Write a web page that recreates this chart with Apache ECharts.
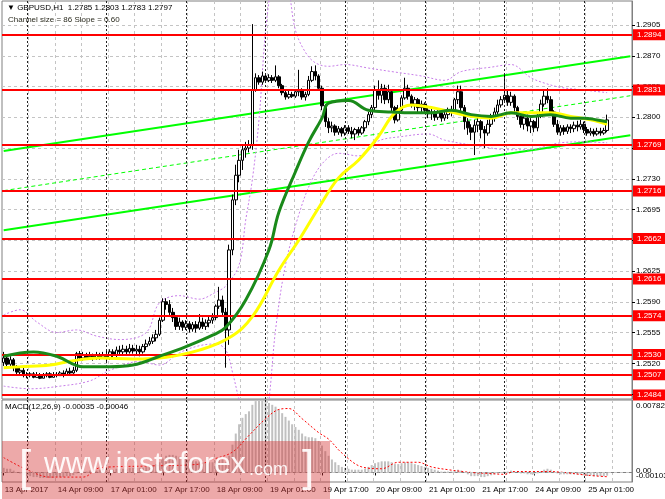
<!DOCTYPE html>
<html><head><meta charset="utf-8">
<script src="https://cdn.jsdelivr.net/npm/echarts@6/dist/echarts.min.js"></script>
<style>html,body{margin:0;padding:0;background:#fff}#c{width:665px;height:499px}</style>
</head><body><div id="c"></div>
<script>
// ---------- data (hourly bars, 13 Apr 2017 17:00 .. 25 Apr 2017 07:00) ----------
const barOpen = [1.2521,1.2526,1.2519,1.2524,1.2515,1.2510,1.2512,1.2507,1.2506,1.2508,
 1.2504,1.2507,1.2503,1.2506,1.2508,1.2504,1.2507,1.2506,1.2509,1.2507,
 1.2511,1.2509,1.2512,1.2531,1.2526,1.2529,1.2526,1.2528,1.2526,1.2529,
 1.2527,1.2529,1.2526,1.2533,1.2529,1.2535,1.2533,1.2536,1.2533,1.2537,
 1.2534,1.2536,1.2533,1.2539,1.2542,1.2545,1.2549,1.2553,1.2569,1.2590,
 1.2587,1.2578,1.2572,1.2562,1.2567,1.2561,1.2565,1.2559,1.2564,1.2560,
 1.2567,1.2562,1.2566,1.2569,1.2572,1.2585,1.2592,1.2578,1.2558,1.2649,
 1.2706,1.2734,1.2751,1.2763,1.2765,1.2768,1.2831,1.2845,1.2840,1.2847,
 1.2842,1.2845,1.2842,1.2846,1.2836,1.2828,1.2823,1.2826,1.2824,1.2829,
 1.2831,1.2823,1.2826,1.2842,1.2852,1.2847,1.2833,1.2813,1.2795,1.2788,
 1.2790,1.2783,1.2787,1.2782,1.2788,1.2784,1.2781,1.2786,1.2782,1.2788,
 1.2795,1.2803,1.2811,1.2831,1.2825,1.2833,1.2820,1.2829,1.2811,1.2797,
 1.2808,1.2822,1.2833,1.2824,1.2815,1.2820,1.2811,1.2815,1.2808,1.2804,
 1.2806,1.2800,1.2805,1.2799,1.2803,1.2808,1.2806,1.2820,1.2829,1.2811,
 1.2795,1.2788,1.2783,1.2791,1.2795,1.2786,1.2782,1.2792,1.2799,1.2806,
 1.2814,1.2820,1.2825,1.2817,1.2824,1.2811,1.2801,1.2792,1.2799,1.2790,
 1.2795,1.2788,1.2801,1.2815,1.2824,1.2820,1.2806,1.2792,1.2783,1.2788,
 1.2784,1.2789,1.2787,1.2791,1.2789,1.2792,1.2786,1.2782,1.2784,1.2781,
 1.2784,1.2782,1.2785];
const barClose = [1.2526,1.2519,1.2524,1.2515,1.2510,1.2512,1.2507,1.2506,1.2508,1.2504,
 1.2507,1.2503,1.2506,1.2508,1.2504,1.2507,1.2506,1.2509,1.2507,1.2511,
 1.2509,1.2512,1.2531,1.2526,1.2529,1.2526,1.2528,1.2526,1.2529,1.2527,
 1.2529,1.2526,1.2533,1.2529,1.2535,1.2533,1.2536,1.2533,1.2537,1.2534,
 1.2536,1.2533,1.2539,1.2542,1.2545,1.2549,1.2553,1.2569,1.2590,1.2587,
 1.2578,1.2572,1.2562,1.2567,1.2561,1.2565,1.2559,1.2564,1.2560,1.2567,
 1.2562,1.2566,1.2569,1.2572,1.2585,1.2592,1.2578,1.2558,1.2649,1.2706,
 1.2734,1.2751,1.2763,1.2765,1.2768,1.2831,1.2845,1.2840,1.2847,1.2842,
 1.2845,1.2842,1.2846,1.2836,1.2828,1.2823,1.2826,1.2824,1.2829,1.2831,
 1.2823,1.2826,1.2842,1.2852,1.2847,1.2833,1.2813,1.2795,1.2788,1.2790,
 1.2783,1.2787,1.2782,1.2788,1.2784,1.2781,1.2786,1.2782,1.2788,1.2795,
 1.2803,1.2811,1.2831,1.2825,1.2833,1.2820,1.2829,1.2811,1.2797,1.2808,
 1.2822,1.2833,1.2824,1.2815,1.2820,1.2811,1.2815,1.2808,1.2804,1.2806,
 1.2800,1.2805,1.2799,1.2803,1.2808,1.2806,1.2820,1.2829,1.2811,1.2795,
 1.2788,1.2783,1.2791,1.2795,1.2786,1.2782,1.2792,1.2799,1.2806,1.2814,
 1.2820,1.2825,1.2817,1.2824,1.2811,1.2801,1.2792,1.2799,1.2790,1.2795,
 1.2788,1.2801,1.2815,1.2824,1.2820,1.2806,1.2792,1.2783,1.2788,1.2784,
 1.2789,1.2787,1.2791,1.2789,1.2792,1.2786,1.2782,1.2784,1.2781,1.2784,
 1.2782,1.2785,1.2797];
const barHigh = [1.2533,1.2529,1.2528,1.2526,1.2518,1.2516,1.2515,1.2510,1.2510,1.2510,
 1.2510,1.2509,1.2509,1.2510,1.2510,1.2510,1.2510,1.2511,1.2512,1.2514,
 1.2515,1.2516,1.2533,1.2534,1.2533,1.2532,1.2533,1.2531,1.2533,1.2532,
 1.2533,1.2535,1.2536,1.2536,1.2539,1.2540,1.2541,1.2540,1.2542,1.2541,
 1.2541,1.2540,1.2542,1.2547,1.2550,1.2553,1.2558,1.2572,1.2594,1.2594,
 1.2592,1.2583,1.2575,1.2572,1.2569,1.2569,1.2568,1.2567,1.2568,1.2576,
 1.2572,1.2570,1.2574,1.2577,1.2587,1.2607,1.2597,1.2583,1.2655,1.2712,
 1.2746,1.2763,1.2768,1.2772,1.2774,1.2906,1.2850,1.2848,1.2852,1.2849,
 1.2849,1.2848,1.2859,1.2848,1.2838,1.2831,1.2830,1.2829,1.2831,1.2854,
 1.2833,1.2829,1.2847,1.2858,1.2859,1.2849,1.2836,1.2815,1.2799,1.2795,
 1.2792,1.2790,1.2789,1.2791,1.2791,1.2789,1.2788,1.2789,1.2790,1.2797,
 1.2806,1.2814,1.2836,1.2842,1.2838,1.2837,1.2837,1.2831,1.2813,1.2814,
 1.2825,1.2845,1.2837,1.2826,1.2823,1.2822,1.2819,1.2817,1.2813,1.2811,
 1.2808,1.2808,1.2806,1.2806,1.2811,1.2813,1.2822,1.2836,1.2836,1.2814,
 1.2799,1.2792,1.2797,1.2799,1.2797,1.2790,1.2797,1.2804,1.2811,1.2820,
 1.2824,1.2848,1.2831,1.2829,1.2826,1.2813,1.2806,1.2804,1.2803,1.2799,
 1.2797,1.2806,1.2820,1.2831,1.2833,1.2824,1.2808,1.2797,1.2791,1.2791,
 1.2792,1.2792,1.2795,1.2796,1.2797,1.2795,1.2789,1.2788,1.2787,1.2788,
 1.2788,1.2788,1.2803];
const barLow = [1.2517,1.2516,1.2515,1.2511,1.2507,1.2506,1.2504,1.2503,1.2504,1.2503,
 1.2504,1.2502,1.2503,1.2504,1.2503,1.2504,1.2504,1.2506,1.2504,1.2507,
 1.2507,1.2508,1.2510,1.2524,1.2523,1.2524,1.2524,1.2523,1.2524,1.2524,
 1.2525,1.2521,1.2524,1.2526,1.2527,1.2529,1.2529,1.2529,1.2531,1.2531,
 1.2529,1.2528,1.2531,1.2535,1.2540,1.2542,1.2545,1.2551,1.2567,1.2581,
 1.2575,1.2567,1.2558,1.2558,1.2557,1.2558,1.2555,1.2556,1.2555,1.2558,
 1.2559,1.2558,1.2561,1.2565,1.2569,1.2582,1.2574,1.2515,1.2541,1.2643,
 1.2700,1.2726,1.2740,1.2754,1.2760,1.2763,1.2829,1.2837,1.2837,1.2839,
 1.2840,1.2839,1.2840,1.2833,1.2825,1.2820,1.2821,1.2822,1.2822,1.2824,
 1.2820,1.2819,1.2824,1.2840,1.2842,1.2831,1.2808,1.2789,1.2782,1.2783,
 1.2779,1.2780,1.2778,1.2779,1.2781,1.2776,1.2774,1.2779,1.2780,1.2784,
 1.2791,1.2799,1.2808,1.2820,1.2816,1.2815,1.2816,1.2806,1.2793,1.2795,
 1.2806,1.2820,1.2820,1.2811,1.2808,1.2806,1.2806,1.2804,1.2799,1.2797,
 1.2796,1.2797,1.2795,1.2796,1.2798,1.2801,1.2804,1.2815,1.2806,1.2786,
 1.2780,1.2774,1.2757,1.2783,1.2776,1.2765,1.2779,1.2789,1.2795,1.2801,
 1.2811,1.2817,1.2813,1.2813,1.2806,1.2797,1.2788,1.2786,1.2784,1.2782,
 1.2783,1.2784,1.2799,1.2812,1.2816,1.2804,1.2789,1.2780,1.2779,1.2780,
 1.2781,1.2782,1.2783,1.2784,1.2786,1.2782,1.2779,1.2779,1.2778,1.2779,
 1.2779,1.2780,1.2783];

const categoryCount = 190;               // bars + empty right margin
const timeLabels = ['13 Apr 2017','14 Apr 09:00','17 Apr 01:00','17 Apr 17:00','18 Apr 09:00','19 Apr 01:00',
  '19 Apr 17:00','20 Apr 09:00','21 Apr 01:00','21 Apr 17:00','24 Apr 09:00','25 Apr 01:00'];
const timeLabelStep = 16;
const daySeparators = [7,31,55,79,103,127,151,175];
const priceTicks = [1.2485,1.2520,1.2555,1.2590,1.2625,1.2660,1.2695,1.2730,1.2765,1.2800,1.2835,1.2870,1.2905];
const levels = [1.2894,1.2831,1.2769,1.2716,1.2662,1.2616,1.2574,1.2530,1.2507,1.2484];
const lastPrice = 1.2797;

// moving averages (sparse readings: bar index -> price)
const maGreenIdx = [0,9,16,24,32,39,47,55,63,67,73,80,83,88,92,96,98,104,110,117,123,129,135,141,147,153,159,165,171,175,179,182];
const maGreen = [1.2528,1.2533,1.2528,1.2516,1.2516,1.2518,1.2528,1.2539,1.2552,1.2561,1.2592,1.2649,1.2692,1.2738,1.2772,1.2799,1.2816,1.2819,1.2808,1.2806,1.2805,1.2805,1.2808,1.2803,1.2801,1.2805,1.2801,1.2803,1.2799,1.2799,1.2797,1.2795];
const maYellowIdx = [0,5,14,21,29,39,49,59,68,75,83,89,95,101,107,113,118,123,129,135,141,147,153,159,165,171,177,182];
const maYellow = [1.2515,1.2516,1.2518,1.2523,1.2526,1.2525,1.2527,1.2535,1.2549,1.2573,1.2626,1.2660,1.2697,1.2731,1.2751,1.2778,1.2805,1.2814,1.2811,1.2806,1.2801,1.2799,1.2805,1.2805,1.2805,1.2801,1.2797,1.2792];

// envelope bands (dotted)
const bandUpperIdx = [0,5,10,16,22,28,35,43,47,53,59,64,67,71,73,75,77,79,81,83,86,88,91,94,98,103,110,117,126,133,138,147,153,159,163,168,175,182];
const bandUpper = [1.2575,1.2581,1.2567,1.2555,1.2558,1.2551,1.2547,1.2555,1.2589,1.2597,1.2593,1.2601,1.2608,1.2632,1.2683,1.2729,1.2797,1.2899,1.2956,1.2990,1.2945,1.2899,1.2874,1.2862,1.2858,1.2860,1.2856,1.2852,1.2847,1.2842,1.2852,1.2857,1.2860,1.2845,1.2839,1.2834,1.2831,1.2828];
const bandLowerIdx = [0,8,17,26,32,41,47,53,59,64,67,69,71,74,78,80,82,85,89,93,97,101,107,113,120,128,133,142,153,158,168,175,182];
const bandLower = [1.2494,1.2491,1.2494,1.2500,1.2512,1.2522,1.2518,1.2532,1.2540,1.2542,1.2535,1.2510,1.2478,1.2433,1.2433,1.2478,1.2558,1.2632,1.2689,1.2729,1.2751,1.2759,1.2756,1.2773,1.2778,1.2781,1.2774,1.2768,1.2763,1.2763,1.2771,1.2772,1.2771];

// regression channel endpoints
const channelIdx = [0,189];
const channelUpper = [1.27615,1.28695];
const channelMid = [1.27165,1.28245];
const channelLower = [1.26715,1.27795];

// MACD(12,26,9)
const macdHist = [0.0005,0.0004,0.0004,0.0002,0.0000,-0.0001,-0.0003,-0.0004,-0.0004,-0.0005,
 -0.0005,-0.0006,-0.0006,-0.0006,-0.0006,-0.0006,-0.0005,-0.0005,-0.0005,-0.0004,
 -0.0004,-0.0003,-0.0001,0.0000,0.0001,0.0001,0.0002,0.0002,0.0002,0.0003,
 0.0003,0.0003,0.0003,0.0003,0.0004,0.0004,0.0004,0.0004,0.0005,0.0005,
 0.0005,0.0005,0.0005,0.0006,0.0007,0.0008,0.0009,0.0011,0.0015,0.0018,
 0.0019,0.0019,0.0018,0.0017,0.0016,0.0015,0.0014,0.0013,0.0012,0.0012,
 0.0011,0.0011,0.0011,0.0011,0.0012,0.0014,0.0014,0.0011,0.0018,0.0030,
 0.0042,0.0052,0.0059,0.0063,0.0066,0.0073,0.0077,0.0078,0.0078,0.0077,
 0.0075,0.0073,0.0071,0.0068,0.0064,0.0060,0.0056,0.0052,0.0049,0.0046,
 0.0042,0.0039,0.0038,0.0038,0.0037,0.0034,0.0029,0.0023,0.0018,0.0014,
 0.0011,0.0008,0.0006,0.0005,0.0004,0.0003,0.0003,0.0003,0.0003,0.0004,
 0.0006,0.0008,0.0010,0.0011,0.0012,0.0012,0.0012,0.0011,0.0009,0.0009,
 0.0010,0.0011,0.0011,0.0010,0.0009,0.0008,0.0007,0.0006,0.0005,0.0004,
 0.0003,0.0002,0.0001,0.0001,0.0001,0.0001,0.0002,0.0003,0.0002,0.0000,
 -0.0002,-0.0004,-0.0004,-0.0004,-0.0005,-0.0005,-0.0004,-0.0003,-0.0002,-0.0001,
 0.0000,0.0001,0.0001,0.0002,0.0001,0.0000,-0.0001,-0.0001,-0.0002,-0.0002,
 -0.0002,-0.0001,0.0001,0.0003,0.0004,0.0003,0.0001,-0.0001,-0.0002,-0.0002,
 -0.0002,-0.0002,-0.0002,-0.0002,-0.0002,-0.0003,-0.0003,-0.0003,-0.0004,-0.0004,
 -0.0004,-0.0004,-0.00035];
const macdSignalIdx = [0,7,14,24,29,44,59,63,69,74,79,83,86,90,95,98,102,108,114,119,125,129,134,141,146,151,154,159,164,169,176,182];
const macdSignal = [0.0016,0.0003,-0.0005,-0.0005,0.0005,0.0007,0.0009,0.0014,0.0022,0.0040,0.0058,0.0068,0.0069,0.0058,0.0043,0.0036,0.0021,0.0006,0.0004,0.0011,0.0011,0.0006,0.0003,0.0000,-0.0001,-0.0002,0.0001,0.0001,0.0001,0.0000,-0.0003,-0.00046];
const macdAxisTicks = [0.00782, 0.00, -0.00103];
const macdLast = [-0.00035, -0.00046];

// ---------- chart ----------
const FONT = '"Liberation Sans", Arial, sans-serif';
const cats = Array.from({length: categoryCount}, (_, i) => String(i));
const pairs = (idx, vals) => idx.map((x, k) => [x, vals[k]]);
const n = barClose.length - 1;

const chart = echarts.init(document.getElementById('c'), null, {renderer: 'canvas'});

const gridLine = {color: '#c4c4c4', type: [3, 3], width: 1};
const sepLine = {color: '#222', type: [2, 2], width: 1};

const option = {
  animation: false,
  backgroundColor: '#ffffff',
  textStyle: {fontFamily: FONT},
  grid: [
    {left: 2, top: 1, width: 630, height: 398, show: true, borderColor: '#808080', borderWidth: 1},
    {left: 2, top: 400, width: 630, height: 82, show: true, borderColor: '#808080', borderWidth: 1}
  ],
  xAxis: [
    {type: 'category', gridIndex: 0, data: cats, boundaryGap: true,
      axisLine: {show: false}, axisTick: {show: false}, axisLabel: {show: false},
      splitLine: {show: true, interval: (i) => i % 8 === 0 && i > 0, lineStyle: gridLine}},
    {type: 'category', gridIndex: 1, data: cats, boundaryGap: true,
      axisLine: {show: true, lineStyle: {color: '#808080'}},
      axisTick: {show: true, alignWithLabel: true, interval: (i) => i % timeLabelStep === 0, length: 3, lineStyle: {color: '#000'}},
      axisLabel: {show: true, interval: (i) => i % timeLabelStep === 0, align: 'left', fontSize: 8, color: '#000', margin: 4,
        fontFamily: FONT, padding: [0, 0, 0, 1],
        formatter: (v, i) => timeLabels[i / timeLabelStep] || ''},
      splitLine: {show: true, interval: (i) => i % 8 === 0 && i > 0, lineStyle: gridLine}}
  ],
  yAxis: [
    {type: 'value', gridIndex: 0, position: 'right', min: 1.247937, max: 1.293231, scale: true,
      axisLine: {show: true, lineStyle: {color: '#808080'}},
      axisTick: {show: true, length: 3, customValues: priceTicks, lineStyle: {color: '#000'}},
      axisLabel: {show: true, customValues: priceTicks, formatter: (v) => v.toFixed(4), fontSize: 8, color: '#000', margin: 4, fontFamily: FONT},
      splitLine: {show: true, lineStyle: gridLine}},
    {type: 'value', gridIndex: 1, position: 'right', min: -0.00103, max: 0.00782,
      axisLine: {show: true, lineStyle: {color: '#808080'}},
      axisTick: {show: false}, axisLabel: {show: false}, splitLine: {show: false}}
  ],
  series: [
    {name: 'chUp', type: 'line', xAxisIndex: 0, yAxisIndex: 0, data: pairs(channelIdx, channelUpper),
      symbol: 'none', silent: true, z: 2, lineStyle: {color: '#00ff00', width: 2},
      markLine: {silent: true, symbol: ['none', 'none'], animation: false,
        lineStyle: sepLine, label: {show: false},
        data: daySeparators.map((d) => ({xAxis: d}))}},
    {name: 'chMid', type: 'line', xAxisIndex: 0, yAxisIndex: 0, data: pairs(channelIdx, channelMid),
      symbol: 'none', silent: true, z: 2, lineStyle: {color: '#00ff00', width: 1, type: [4, 3]}},
    {name: 'chLow', type: 'line', xAxisIndex: 0, yAxisIndex: 0, data: pairs(channelIdx, channelLower),
      symbol: 'none', silent: true, z: 2, lineStyle: {color: '#00ff00', width: 2},
      markLine: {silent: true, symbol: ['none', 'none'], animation: false, precision: 4,
        lineStyle: {color: '#ff0000', width: 2, type: 'solid'},
        label: {show: true, position: 'end', distance: 1, formatter: (p) => Number(p.value).toFixed(4),
          backgroundColor: '#ff0000', color: '#ffffff', fontSize: 8, fontFamily: FONT, padding: [2, 4, 1, 4]},
        data: levels.map((v) => ({yAxis: v})).concat([{yAxis: lastPrice, lineStyle: {opacity: 0},
          label: {backgroundColor: '#000000', color: '#ffffff'}}])}},
    {name: 'bandUp', type: 'line', xAxisIndex: 0, yAxisIndex: 0, data: pairs(bandUpperIdx, bandUpper),
      symbol: 'none', silent: true, smooth: 0.35, z: 3, lineStyle: {color: '#c77ee8', width: 1, type: [2, 2]}},
    {name: 'bandLow', type: 'line', xAxisIndex: 0, yAxisIndex: 0, data: pairs(bandLowerIdx, bandLower),
      symbol: 'none', silent: true, smooth: 0.35, z: 3, lineStyle: {color: '#c77ee8', width: 1, type: [2, 2]}},
    {name: 'GBPUSD', type: 'candlestick', xAxisIndex: 0, yAxisIndex: 0, z: 4, barWidth: 3,
      data: barOpen.map((o, i) => [o, barClose[i], barLow[i], barHigh[i]]),
      itemStyle: {color: '#ffffff', color0: '#000000', borderColor: '#000000', borderColor0: '#000000', borderWidth: 1}},
    {name: 'maYellow', type: 'line', xAxisIndex: 0, yAxisIndex: 0, data: pairs(maYellowIdx, maYellow),
      symbol: 'none', silent: true, smooth: 0.4, z: 5, lineStyle: {color: '#ffff00', width: 3}},
    {name: 'maGreen', type: 'line', xAxisIndex: 0, yAxisIndex: 0, data: pairs(maGreenIdx, maGreen),
      symbol: 'none', silent: true, smooth: 0.4, z: 6, lineStyle: {color: '#1a8a1a', width: 3}},
    {name: 'MACD', type: 'bar', xAxisIndex: 1, yAxisIndex: 1, data: macdHist, barWidth: 2, z: 3,
      itemStyle: {color: '#c0c0c0'}, silent: true,
      markLine: {silent: true, symbol: ['none', 'none'], animation: false, label: {show: false}, precision: 5,
        data: daySeparators.map((d) => ({xAxis: d, lineStyle: sepLine}))
          .concat([{yAxis: 0, lineStyle: gridLine}])}},
    {name: 'Signal', type: 'line', xAxisIndex: 1, yAxisIndex: 1, data: pairs(macdSignalIdx, macdSignal),
      symbol: 'none', silent: true, smooth: 0.35, z: 4, lineStyle: {color: '#ff0000', width: 1, type: [2, 2]}}
  ],
  graphic: [
    {type: 'text', x: 7, y: 8, z: 50, style: {text: '▼ GBPUSD,H1  ' + [barOpen[n], barHigh[n], barLow[n], barClose[n]].map((v) => v.toFixed(4)).join(' '),
      fontSize: 8, fontFamily: FONT, fill: '#000', verticalAlign: 'middle'}},
    {type: 'text', x: 8, y: 19.5, z: 50, style: {text: 'Channel size = 86 Slope = 0.60', fontSize: 8, fontFamily: FONT, fill: '#2b2b1f', verticalAlign: 'middle'}},
    {type: 'text', x: 5, y: 407, z: 50, style: {text: 'MACD(12,26,9) ' + macdLast.map((v) => v.toFixed(5)).join(' '), fontSize: 8, fontFamily: FONT, fill: '#000', verticalAlign: 'middle'}},
    {type: 'text', x: 636, y: 406, z: 50, style: {text: macdAxisTicks[0].toFixed(5), fontSize: 8, fontFamily: FONT, fill: '#000', verticalAlign: 'middle'}},
    {type: 'text', x: 636, y: 471, z: 50, style: {text: macdAxisTicks[1].toFixed(2), fontSize: 8, fontFamily: FONT, fill: '#000', verticalAlign: 'middle'}},
    {type: 'text', x: 636, y: 476, z: 50, style: {text: macdAxisTicks[2].toFixed(5), fontSize: 8, fontFamily: FONT, fill: '#000', verticalAlign: 'middle'}},
    {type: 'rect', z: 90, shape: {x: 2, y: 441, width: 328, height: 58}, style: {fill: 'rgba(212,50,50,0.42)'}},
    {type: 'text', x: 19, y: 469, z: 91, style: {text: '[', fontSize: 44, fontFamily: FONT, fill: 'rgba(255,255,255,0.92)', verticalAlign: 'middle'}},
    {type: 'text', x: 44, y: 465, z: 91, style: {text: 'www.instaforex', fontSize: 30, fontFamily: FONT, fill: 'rgba(255,255,255,0.92)', verticalAlign: 'middle'}},
    {type: 'text', x: 249, y: 470, z: 91, style: {text: '.com', fontSize: 18, fontFamily: FONT, fill: 'rgba(255,255,255,0.92)', verticalAlign: 'middle'}},
    {type: 'text', x: 302, y: 469, z: 91, style: {text: ']', fontSize: 44, fontFamily: FONT, fill: 'rgba(255,255,255,0.92)', verticalAlign: 'middle'}}
  ]
};
chart.setOption(option);
</script>
</body></html>
